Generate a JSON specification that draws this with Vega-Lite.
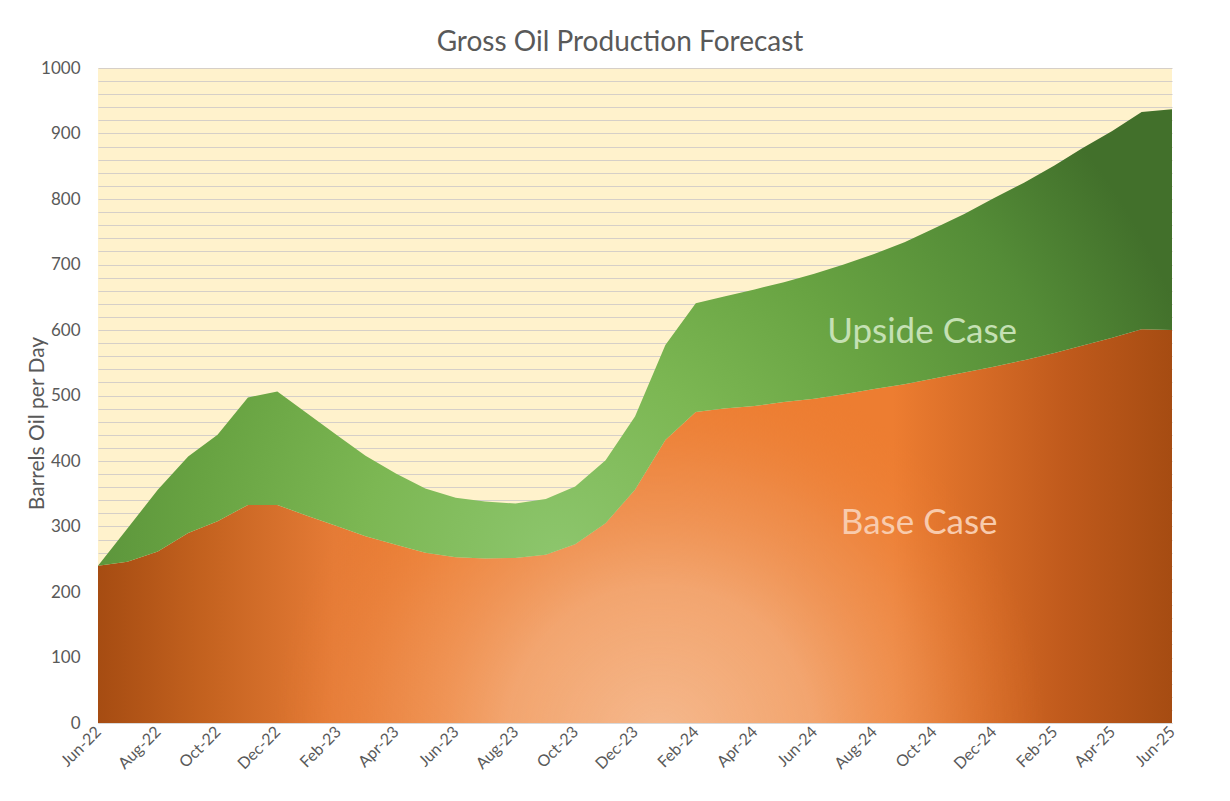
{
  "$schema": "https://vega.github.io/schema/vega-lite/v6.json",
  "width": 1074,
  "height": 655,
  "autosize": {"type": "none"},
  "padding": {"left": 98, "top": 68, "right": 58, "bottom": 78},
  "background": "#ffffff",
  "title": {
    "text": "Gross Oil Production Forecast",
    "font": "Lato",
    "fontSize": 28,
    "fontWeight": "normal",
    "color": "#595959",
    "anchor": "middle",
    "frame": "group",
    "baseline": "alphabetic",
    "offset": -20,
    "dx": -15
  },
  "datasets": {
    "series": [
      {"date": "2022-06-01", "base": 240, "upside": 240},
      {"date": "2022-07-01", "base": 246, "upside": 297},
      {"date": "2022-08-01", "base": 262, "upside": 356},
      {"date": "2022-09-01", "base": 290, "upside": 407},
      {"date": "2022-10-01", "base": 308, "upside": 440},
      {"date": "2022-11-01", "base": 333, "upside": 497},
      {"date": "2022-12-01", "base": 333, "upside": 506},
      {"date": "2023-01-01", "base": 316, "upside": 472},
      {"date": "2023-02-01", "base": 300, "upside": 438},
      {"date": "2023-03-01", "base": 285, "upside": 408},
      {"date": "2023-04-01", "base": 272, "upside": 381},
      {"date": "2023-05-01", "base": 260, "upside": 358},
      {"date": "2023-06-01", "base": 253, "upside": 344},
      {"date": "2023-07-01", "base": 251, "upside": 338},
      {"date": "2023-08-01", "base": 252, "upside": 335},
      {"date": "2023-09-01", "base": 257, "upside": 342},
      {"date": "2023-10-01", "base": 273, "upside": 361},
      {"date": "2023-11-01", "base": 305, "upside": 401},
      {"date": "2023-12-01", "base": 356, "upside": 468},
      {"date": "2024-01-01", "base": 432, "upside": 577},
      {"date": "2024-02-01", "base": 475, "upside": 641},
      {"date": "2024-03-01", "base": 480, "upside": 651},
      {"date": "2024-04-01", "base": 484, "upside": 662},
      {"date": "2024-05-01", "base": 490, "upside": 673},
      {"date": "2024-06-01", "base": 495, "upside": 686},
      {"date": "2024-07-01", "base": 502, "upside": 700},
      {"date": "2024-08-01", "base": 510, "upside": 716},
      {"date": "2024-09-01", "base": 517, "upside": 734},
      {"date": "2024-10-01", "base": 526, "upside": 755},
      {"date": "2024-11-01", "base": 535, "upside": 777},
      {"date": "2024-12-01", "base": 544, "upside": 801},
      {"date": "2025-01-01", "base": 554, "upside": 825},
      {"date": "2025-02-01", "base": 565, "upside": 851},
      {"date": "2025-03-01", "base": 576, "upside": 877},
      {"date": "2025-04-01", "base": 588, "upside": 904},
      {"date": "2025-05-01", "base": 601, "upside": 933},
      {"date": "2025-06-01", "base": 600, "upside": 937}
    ],
    "labels": [
      {"date": "2024-09-19", "value": 580, "label": "Upside Case", "kind": "up"},
      {"date": "2024-09-16", "value": 288, "label": "Base Case", "kind": "base"}
    ]
  },
  "config": {
    "view": {"fill": "#fff2cc", "stroke": null},
    "font": "Lato"
  },
  "layer": [
    {
      "data": {"name": "series"},
      "mark": {
        "type": "area",
        "color": {
          "gradient": "linear",
          "x1": 0, "y1": 0, "x2": 1, "y2": 0,
          "stops": [
            {"offset": 0, "color": "#a64c12"},
            {"offset": 0.1, "color": "#c4621f"},
            {"offset": 0.22, "color": "#e57b36"},
            {"offset": 0.33, "color": "#ed7d31"},
            {"offset": 0.74, "color": "#ed7d31"},
            {"offset": 0.9, "color": "#c05a1c"},
            {"offset": 1, "color": "#a64c12"}
          ]
        }
      },
      "encoding": {
        "x": {
          "field": "date",
          "type": "temporal",
          "scale": {
            "type": "utc",
            "domain": [
              {"year": 2022, "month": 6, "date": 1, "utc": true},
              {"year": 2025, "month": 6, "date": 1, "utc": true}
            ]
          },
          "axis": {
            "title": null,
            "format": "%b-%y",
            "tickCount": 40,
            "values": [
              {"year": 2022, "month": 6, "date": 1, "utc": true},
              {"year": 2022, "month": 8, "date": 1, "utc": true},
              {"year": 2022, "month": 10, "date": 1, "utc": true},
              {"year": 2022, "month": 12, "date": 1, "utc": true},
              {"year": 2023, "month": 2, "date": 1, "utc": true},
              {"year": 2023, "month": 4, "date": 1, "utc": true},
              {"year": 2023, "month": 6, "date": 1, "utc": true},
              {"year": 2023, "month": 8, "date": 1, "utc": true},
              {"year": 2023, "month": 10, "date": 1, "utc": true},
              {"year": 2023, "month": 12, "date": 1, "utc": true},
              {"year": 2024, "month": 2, "date": 1, "utc": true},
              {"year": 2024, "month": 4, "date": 1, "utc": true},
              {"year": 2024, "month": 6, "date": 1, "utc": true},
              {"year": 2024, "month": 8, "date": 1, "utc": true},
              {"year": 2024, "month": 10, "date": 1, "utc": true},
              {"year": 2024, "month": 12, "date": 1, "utc": true},
              {"year": 2025, "month": 2, "date": 1, "utc": true},
              {"year": 2025, "month": 4, "date": 1, "utc": true},
              {"year": 2025, "month": 6, "date": 1, "utc": true}
            ],
            "labelAngle": -45,
            "labelAlign": "right",
            "labelBaseline": "middle",
            "labelPadding": 6,
            "labelFontSize": 16,
            "labelFont": "Lato",
            "labelColor": "#595959",
            "labelOverlap": false,
            "labelFlush": false,
            "ticks": false,
            "grid": false,
            "domain": true,
            "domainColor": "#d9d9d9",
            "domainWidth": 1
          }
        },
        "y": {
          "field": "base",
          "type": "quantitative",
          "scale": {"domain": [0, 1000], "nice": false},
          "axis": {
            "title": "Barrels Oil per Day",
            "titleFont": "Lato",
            "titleFontSize": 21,
            "titleFontWeight": "normal",
            "titleColor": "#595959",
            "titleAngle": -90,
            "titleAlign": "center",
            "titleBaseline": "alphabetic",
            "titleX": -55,
            "titleY": 355,
            "tickCount": 100,
            "format": "d",
            "values": [0,20,40,60,80,100,120,140,160,180,200,220,240,260,280,300,320,340,360,380,400,420,440,460,480,500,520,540,560,580,600,620,640,660,680,700,720,740,760,780,800,820,840,860,880,900,920,940,960,980,1000],
            "labelExpr": "datum.value % 100 === 0 ? datum.label : ''",
            "labelOverlap": false,
            "labelFontSize": 17,
            "labelFont": "Lato",
            "labelColor": "#595959",
            "labelPadding": 18,
            "ticks": false,
            "domain": false,
            "grid": true,
            "gridColor": "#d6cfc8",
            "gridWidth": 1
          }
        }
      }
    },
    {
      "data": {"name": "series"},
      "mark": {
        "type": "area",
        "color": {
          "gradient": "radial",
          "x1": 0.523, "y1": 0.699, "r1": 0,
          "x2": 0.523, "y2": 0.699, "r2": 0.36,
          "stops": [
            {"offset": 0, "color": "rgba(245,185,142,1)"},
            {"offset": 0.4, "color": "rgba(244,176,128,0.78)"},
            {"offset": 0.7, "color": "rgba(240,158,102,0.38)"},
            {"offset": 1, "color": "rgba(237,125,49,0)"}
          ]
        }
      },
      "encoding": {
        "x": {"field": "date", "type": "temporal"},
        "y": {"field": "base", "type": "quantitative"}
      }
    },
    {
      "data": {"name": "series"},
      "mark": {
        "type": "area",
        "color": {
          "gradient": "radial",
          "x1": 0.43, "y1": 0.707, "r1": 0,
          "x2": 0.43, "y2": 0.707, "r2": 0.62,
          "stops": [
            {"offset": 0, "color": "#8dc66d"},
            {"offset": 0.3, "color": "#7cb753"},
            {"offset": 0.55, "color": "#68a342"},
            {"offset": 0.8, "color": "#548c37"},
            {"offset": 1, "color": "#42702b"}
          ]
        }
      },
      "encoding": {
        "x": {"field": "date", "type": "temporal"},
        "y": {"field": "upside", "type": "quantitative"},
        "y2": {"field": "base"}
      }
    },
    {
      "data": {"name": "labels"},
      "mark": {"type": "text", "font": "Lato", "fontSize": 35, "align": "center", "baseline": "alphabetic"},
      "encoding": {
        "x": {"field": "date", "type": "temporal"},
        "y": {"field": "value", "type": "quantitative"},
        "text": {"field": "label"},
        "color": {
          "field": "kind",
          "type": "nominal",
          "scale": {"domain": ["up", "base"], "range": ["#c5e0b4", "#f8cbad"]},
          "legend": null
        }
      }
    }
  ]
}
